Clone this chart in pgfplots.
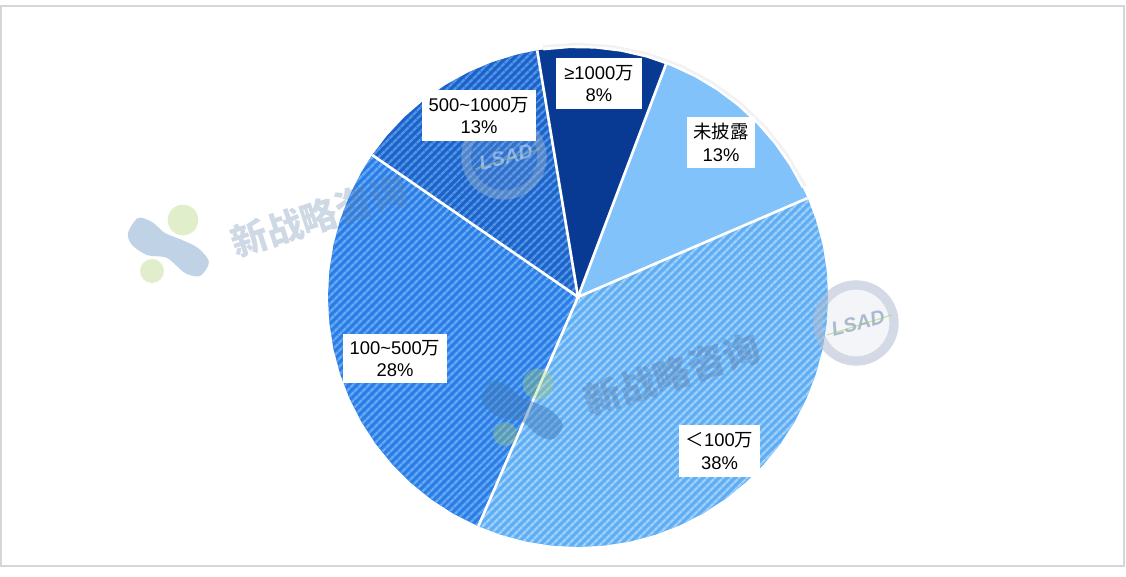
\documentclass[border=0pt]{standalone}
\usepackage{fontspec}
\setmainfont{Liberation Sans}
\newfontfamily\cjk{Noto Sans CJK SC}
\usepackage{pgfplots}
\pgfplotsset{compat=1.18}
\usetikzlibrary{patterns.meta}

% 1 px of the reference = 0.75pt; axis units are px, origin at the pie centre
\definecolor{navy}{HTML}{083A94}
\definecolor{sky}{HTML}{82C2FB}
\definecolor{midA}{HTML}{1C62C8}
\definecolor{midB}{HTML}{4F94E6}
\definecolor{bigA}{HTML}{2B7DE6}
\definecolor{bigB}{HTML}{65A9F4}
\definecolor{lowA}{HTML}{5EAEF6}
\definecolor{lowB}{HTML}{A0D0FA}
\definecolor{wm}{HTML}{5F7FA8}
\definecolor{stampc}{HTML}{AEBCCF}
\definecolor{blob}{HTML}{3F78B4}
\definecolor{leaf}{HTML}{A8CF6A}

\tikzset{
  slab/.style={fill=white, inner sep=0pt, align=center, font=\fontsize{13.8pt}{17pt}\selectfont, text=black},
  stripe/.style n args={2}{preaction={fill=#1}, pattern={Lines[angle=45,distance=4pt,line width=2pt]}, pattern color=#2},
  mark text/.style={wm, rotate=18, font=\cjk\bfseries\fontsize{27.5pt}{27.5pt}\selectfont},
  stamp text/.style={rotate=15, font=\bfseries\itshape\fontsize{15pt}{15pt}\selectfont},
}

\begin{document}
\begin{tikzpicture}
\begin{axis}[
    scale only axis,
    width=844.5pt, height=432.75pt,
    xmin=-578, xmax=548,
    ymin=-280, ymax=297,
    hide axis,
    clip=false,
    data cs=polar,
]
\path (axis cs:-578,297) rectangle (axis cs:548,-280);

% under-glow on the upper right rim
\addplot[draw=black!10, line width=2pt, opacity=.5, forget plot] coordinates {
(26,253) (34,253) (42,253) (50,253) (58,253) (66,253) (74,253) (82,253) (90,253) (98,253)};

% <100万 38%
\addplot[stripe={lowA}{lowB}, draw=none] coordinates {
(23.3,0) (23.3,250) (18,250) (12,250) (6,250) (0,250) (-6,250) (-12,250) (-18,250) (-24,250) (-30,250) (-36,250) (-42,250) (-48,250) (-54,250) (-60,250) (-66,250) (-72,250) (-78,250) (-84,250) (-90,250) (-96,250) (-102,250) (-108,250) (-113.5,250) (-113.5,0)} -- cycle;
% 100~500万 28%
\addplot[stripe={bigA}{bigB}, draw=none] coordinates {
(246.5,0) (246.5,250) (240,250) (234,250) (228,250) (222,250) (216,250) (210,250) (204,250) (198,250) (192,250) (186,250) (180,250) (174,250) (168,250) (162,250) (156,250) (150,250) (145.4,250) (145.4,0)} -- cycle;
% 500~1000万 13%
\addplot[stripe={midA}{midB}, draw=none] coordinates {
(145.4,0) (145.4,250) (140,250) (134,250) (128,250) (122,250) (116,250) (110,250) (104,250) (99.4,250) (99.4,0)} -- cycle;
% >=1000万 8%
\addplot[fill=navy, draw=none] coordinates {
(99.4,0) (99.4,250) (94,250) (88,250) (82,250) (76,250) (69.3,250) (69.3,0)} -- cycle;
% 未披露 13%
\addplot[fill=sky, draw=none] coordinates {
(69.3,0) (69.3,250) (64,250) (58,250) (52,250) (46,250) (40,250) (34,250) (28,250) (23.3,250) (23.3,0)} -- cycle;

% white separators
\addplot[white, line width=2pt] coordinates {(23.3,250) (23.3,0) (69.3,250)};
\addplot[white, line width=2pt] coordinates {(99.4,250) (99.4,0) (145.4,250)};
\addplot[white, line width=2pt] coordinates {(246.5,250) (246.5,0)};
\addplot[white, line width=1.5pt] coordinates {
(26,250) (32,250) (38,250) (44,250) (50,250) (56,250) (62,250) (68,250) (74,250) (80,250) (86,250) (92,250) (98,250)};

% frame
\draw[black!16, line width=1.5pt] (axis cs:-577,290.5) rectangle (axis cs:546,-269.5);

% watermarks under the stamp and the labels' faint overlay
\fill[stampc, opacity=.15] (axis cs:-74,140) circle[radius=25pt];
\draw[stampc, opacity=.38, line width=7pt] (axis cs:-74,140) circle[radius=28.5pt];
\node[stamp text, white, opacity=.4] at (axis cs:-72,140) {LSAD};
\draw[leaf, opacity=.45, line width=.8pt] (axis cs:-103,128) -- (axis cs:-38,148);

% labels
\node[slab, minimum width=86pt, minimum height=38pt] at (axis cs:-99,181.5) {500\textasciitilde1000{\cjk 万}\\13\%};
\node[slab, minimum width=64.5pt, minimum height=38pt] at (axis cs:21,213.5) {≥1000{\cjk 万}\\8\%};
\node[slab, minimum width=51pt, minimum height=38pt] at (axis cs:143,154.5) {{\cjk 未披露}\\13\%};
\node[slab, minimum width=61pt, minimum height=39pt] at (axis cs:141.5,-154) {{\cjk ＜}100{\cjk 万}\\38\%};
\node[slab, minimum width=78pt, minimum height=37pt] at (axis cs:-183,-61.5) {100\textasciitilde500{\cjk 万}\\28\%};

\fill[leaf, opacity=.35] (axis cs:-395,77) circle[radius=11.5pt];
\fill[leaf, opacity=.35] (axis cs:-426,26) circle[radius=9pt];
\fill[blob, opacity=.33] plot[smooth cycle] coordinates {(axis cs:-450,64) (axis cs:-440,79) (axis cs:-426,75) (axis cs:-413,64) (axis cs:-396,57) (axis cs:-380,49) (axis cs:-369,35) (axis cs:-378,21) (axis cs:-393,24) (axis cs:-411,39) (axis cs:-431,42) (axis cs:-446,52)};
\node[mark text, opacity=.3] at (axis cs:-259,81) {新战略咨询};

\fill[leaf, opacity=.35] (axis cs:-40,-87) circle[radius=11.5pt];
\fill[leaf, opacity=.35] (axis cs:-73,-137) circle[radius=9pt];
\fill[blob, opacity=.45] plot[smooth cycle] coordinates {(axis cs:-96,-99) (axis cs:-86,-84) (axis cs:-72,-88) (axis cs:-59,-99) (axis cs:-42,-106) (axis cs:-26,-114) (axis cs:-15,-128) (axis cs:-24,-142) (axis cs:-39,-139) (axis cs:-57,-124) (axis cs:-77,-121) (axis cs:-92,-111)};
\node[mark text, opacity=.42] at (axis cs:94,-77) {新战略咨询};

\fill[stampc, opacity=.15] (axis cs:278,-26) circle[radius=25pt];
\draw[stampc, opacity=.55, line width=7pt] (axis cs:278,-26) circle[radius=28.5pt];
\node[stamp text, wm, opacity=.5] at (axis cs:280,-26) {LSAD};
\draw[leaf, opacity=.6, line width=.8pt] (axis cs:249,-38) -- (axis cs:314,-18);
\end{axis}
\end{tikzpicture}
\end{document}
